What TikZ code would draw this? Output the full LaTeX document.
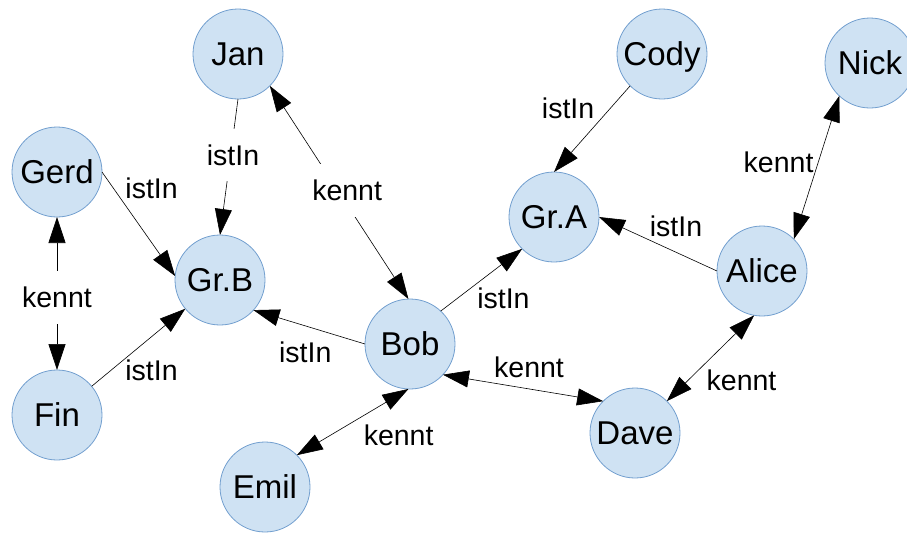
\documentclass[tikz,border=0pt]{standalone}
\usepackage{fontspec}
\setmainfont{Liberation Sans}
\usepackage{tikz}
\usetikzlibrary{arrows.meta,shapes}
\definecolor{nodefill}{RGB}{207,226,243}
\definecolor{nodeline}{RGB}{114,159,207}
\tikzstyle{net}=[x=1pt,y=-1pt,every node/.style={circle,draw=nodeline,fill=nodefill,
                line width=0.8pt,minimum size=90pt,inner sep=0,outer sep=0,text=black,
                text height=23.6pt,text depth=0pt,font=\fontsize{33}{40}\selectfont}]
\tikzstyle{elabel}=[rectangle,fill=none,draw=none,text=black,minimum size=0pt,
                text height=,text depth=,inner sep=1pt,font=\fontsize{28.5}{34}\selectfont]
\tikzstyle{gap}=[fill=white,inner xsep=4pt,inner ysep=16pt]
\tikzstyle{rel}=[every edge/.style={draw=black,line width=0.6pt},
                -{Triangle[length=26pt,width=17pt]}]
\tikzstyle{knows}=[rel,{Triangle[length=26pt,width=17pt]}-{Triangle[length=26pt,width=17pt]}]

\begin{document}
\begin{tikzpicture}[net]
\useasboundingbox (0,0) rectangle (907,533);
\node (jan) at (238,54) {Jan};
\node (cody) at (662,54) {Cody};
\node (nick) at (870,63) {Nick};
\node (gerd) at (57,172) {Gerd};
\node (gra) at (554,217) {Gr.A};
\node (grb) at (220,280) {Gr.B};
\node (alice) at (762,271) {Alice};
\node (bob) at (410,344) {Bob};
\node (fin) at (57,415) {Fin};
\node (dave) at (635,433) {Dave};
\node (emil) at (265,487) {Emil};
% istIn
\path[rel]
  (jan.south) edge node[elabel,gap,xshift=4pt,yshift=12pt] {istIn} (grb.north)
  (gerd.east) edge node[elabel,xshift=13pt,yshift=36pt] {istIn} (grb.175)
  (fin) edge node[elabel,xshift=13pt,yshift=-23pt] {istIn} (grb)
  (bob.180) edge node[elabel,xshift=-4pt,yshift=-25pt] {istIn} (grb.-42)
  (bob.47) edge node[elabel,xshift=22pt,yshift=-18pt] {istIn} (gra.225)
  (cody.225) edge node[elabel,xshift=-24pt,yshift=21pt] {istIn} (gra.north)
  (alice.180) edge node[elabel,xshift=18pt,yshift=18pt] {istIn} (gra.east);
% kennt
\path[knows]
  (jan.-45) edge node[elabel,gap,xshift=8pt,yshift=2pt] {kennt} (bob.92)
  (gerd.south) edge node[elabel,gap,yshift=-4pt] {kennt} (fin.north)
  (nick.227) edge node[elabel,xshift=-38pt,yshift=5pt] {kennt} (alice.45)
  (alice.260) edge node[elabel,xshift=31pt,yshift=-22pt] {kennt} (dave.45)
  (bob.-43) edge node[elabel,xshift=6pt,yshift=21pt] {kennt} (dave.135)
  (bob.268) edge node[elabel,xshift=46pt,yshift=-13pt] {kennt} (emil.45);
\end{tikzpicture}
\end{document}
